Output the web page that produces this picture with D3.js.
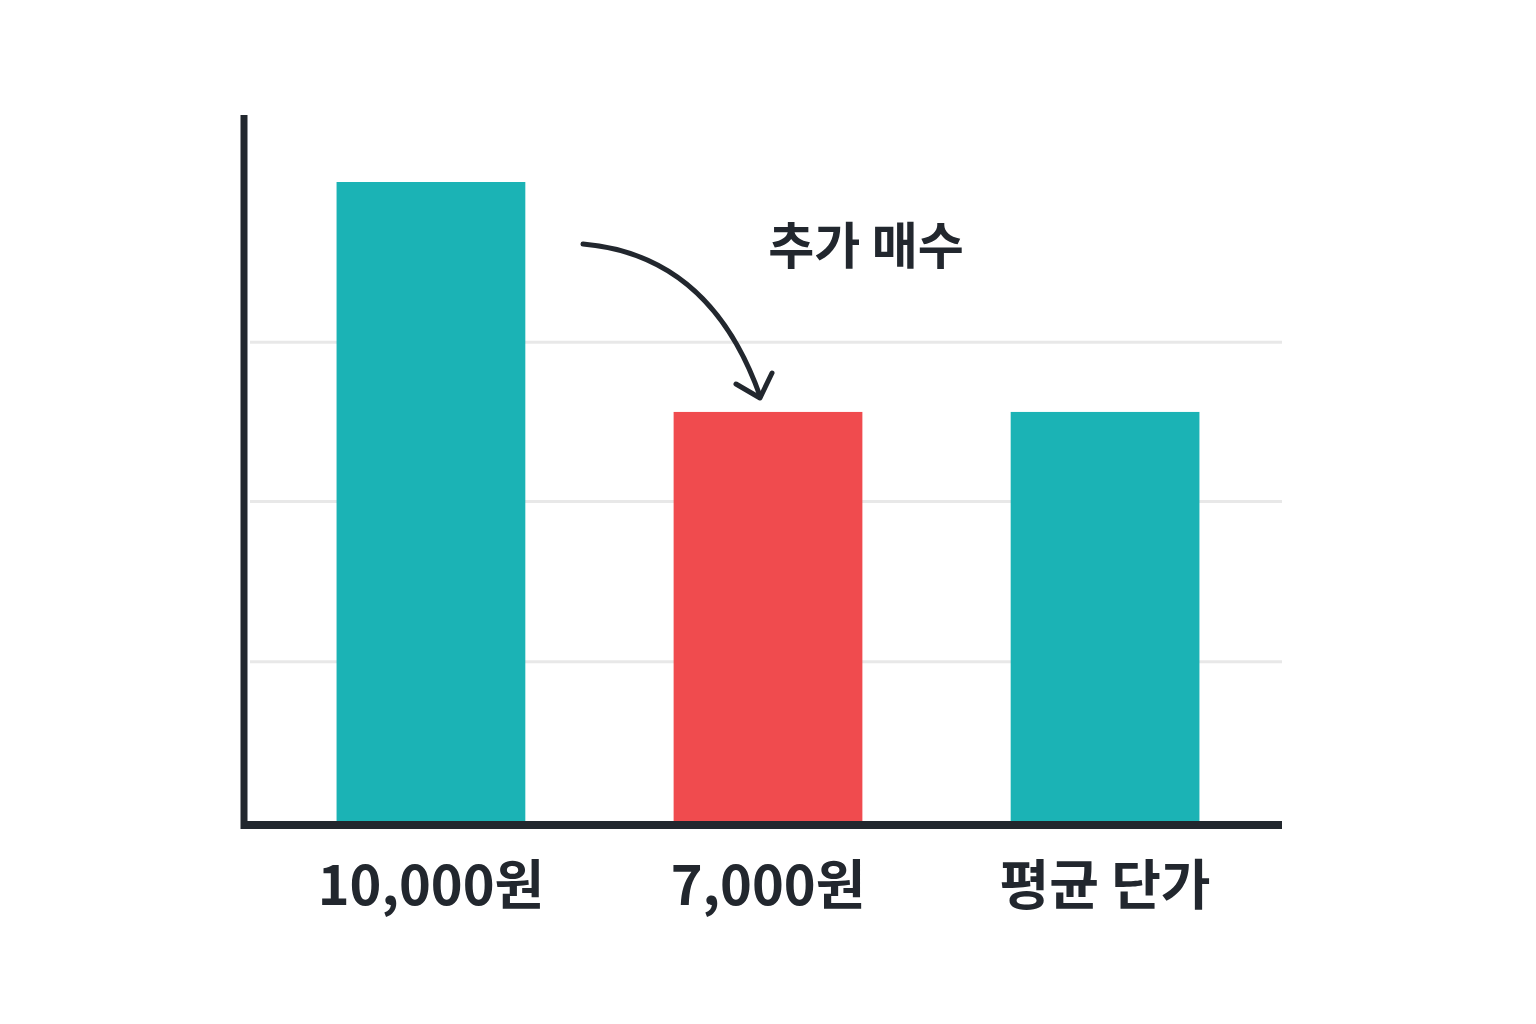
<!DOCTYPE html>
<html><head><meta charset="utf-8">
<script src="https://cdn.jsdelivr.net/npm/d3@7"></script>
<style>body{margin:0;background:#fff}</style></head>
<body><svg id="c" width="1536" height="1024"></svg>
<script>
const categories = ["10,000원", "7,000원", "평균 단가"];
const values = [10000, 7000, 7000];
const colors = ["#1bb3b5", "#f04b4e", "#1bb3b5"];
const gridValues = [3740, 5830, 7910];
const annotation = "추가 매수";

const svg = d3.select("#c");
const font = "'Noto Sans CJK KR', sans-serif";
const dark = "#22272e";
const x = d3.scaleBand().domain(categories).range([286, 1250]).paddingInner(0.44).paddingOuter(0.15);
const y = d3.scaleLinear().domain([1650, 10000]).range([822, 182]);

svg.selectAll(".g").data(gridValues).join("line")
  .attr("x1", 250).attr("x2", 1282).attr("y1", d => y(d)).attr("y2", d => y(d))
  .attr("stroke", "#e8e8e8").attr("stroke-width", 3);

svg.selectAll(".b").data(values).join("rect")
  .attr("x", (d, i) => x(categories[i])).attr("width", x.bandwidth())
  .attr("y", d => y(d)).attr("height", d => y(1650) - y(d))
  .attr("fill", (d, i) => colors[i]);

svg.append("line").attr("x1", 244).attr("x2", 244).attr("y1", 115).attr("y2", 829)
  .attr("stroke", dark).attr("stroke-width", 7);
svg.append("line").attr("x1", 241).attr("x2", 1282).attr("y1", 825).attr("y2", 825)
  .attr("stroke", dark).attr("stroke-width", 8);

svg.selectAll(".t").data(categories).join("text")
  .attr("x", d => x(d) + x.bandwidth() / 2).attr("y", 905)
  .attr("text-anchor", "middle").attr("font-family", font).attr("font-weight", 700)
  .attr("font-size", 54).attr("fill", dark).text(d => d);

// arrow
const x2c = x(categories[1]) + x.bandwidth() / 2 - 8;
svg.append("path").attr("d", `M583,244 Q710,255 ${x2c},396`)
  .attr("fill", "none").attr("stroke", dark).attr("stroke-width", 5).attr("stroke-linecap", "round");
svg.append("path").attr("d", `M736,384 L${x2c},398 L772,373`)
  .attr("fill", "none").attr("stroke", dark).attr("stroke-width", 5)
  .attr("stroke-linecap", "round").attr("stroke-linejoin", "round");

svg.append("text").attr("x", 866).attr("y", 264).attr("text-anchor", "middle")
  .attr("font-family", font).attr("font-weight", 700).attr("font-size", 50)
  .attr("fill", dark).text(annotation);
</script></body></html>
